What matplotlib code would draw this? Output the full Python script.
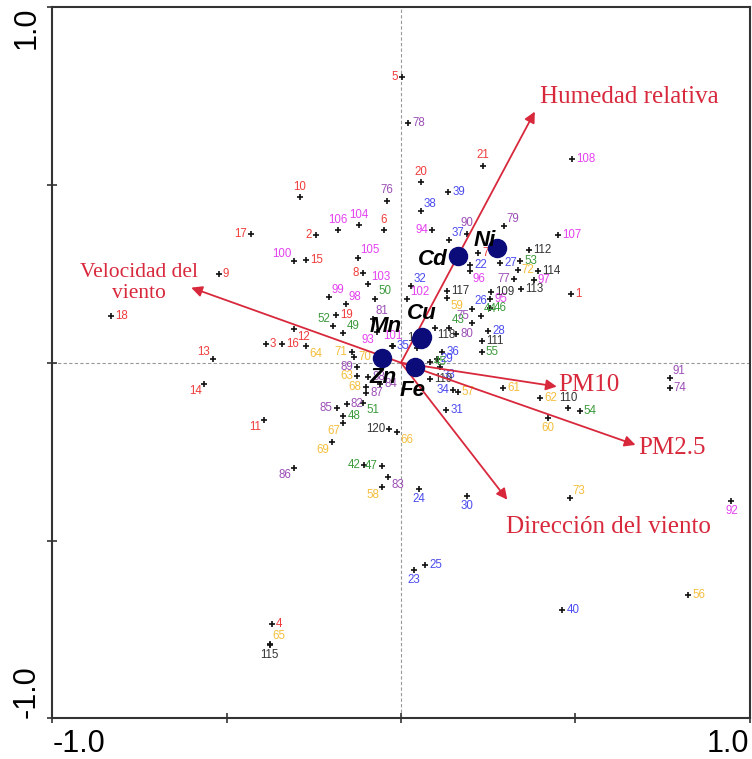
import matplotlib
matplotlib.use("Agg")
from matplotlib import pyplot as plt

# Site scores (axis 1, axis 2), grouped by label colour
red_ids = [1, 2, 3, 4, 5, 6, 7, 8, 9, 10, 11, 12, 13, 14, 15, 16, 17, 18, 19, 20, 21]
red_x = [0.489, -0.243, -0.388, -0.370, 0.002, -0.050, 0.222, -0.108, -0.523, -0.291, -0.393,
         -0.307, -0.540, -0.564, -0.273, -0.342, -0.430, -0.831, -0.186, 0.057, 0.234]
red_y = [0.192, 0.358, 0.054, -0.735, 0.803, 0.374, 0.309, 0.253, 0.250, 0.465, -0.161,
         0.094, 0.010, -0.059, 0.288, 0.054, 0.363, 0.131, 0.133, 0.507, 0.554]

blue_ids = [22, 23, 24, 25, 26, 27, 28, 29, 30, 31, 32, 33, 34, 35, 36, 37, 38, 39, 40]
blue_x = [0.198, 0.038, 0.052, 0.069, 0.203, 0.284, 0.250, 0.102, 0.188, 0.129, 0.028,
          0.112, 0.150, -0.026, 0.119, 0.138, 0.056, 0.136, 0.463]
blue_y = [0.276, -0.582, -0.355, -0.568, 0.152, 0.281, 0.089, 0.010, -0.375, -0.132, 0.215,
          -0.013, -0.077, 0.046, 0.029, 0.344, 0.426, 0.480, -0.696]

green_ids = [42, 43, 44, 45, 46, 47, 48, 49, 50, 51, 52, 53, 54, 55]
green_x = [-0.105, 0.138, 0.229, 0.083, 0.255, -0.054, -0.165, -0.165, -0.074, -0.108, -0.194,
           0.342, 0.513, 0.231]
green_y = [-0.287, 0.099, 0.130, 0.003, 0.155, -0.291, -0.151, 0.083, 0.180, -0.112, 0.103,
           0.285, -0.135, 0.029]

orange_ids = [56, 57, 58, 59, 60, 61, 62, 63, 64, 65, 66, 67, 68, 69, 70, 71, 72, 73]
orange_x = [0.823, 0.163, -0.055, 0.133, 0.422, 0.293, 0.398, -0.126, -0.272, -0.377, -0.011,
            -0.165, -0.101, -0.198, -0.135, -0.141, 0.335, 0.484]
orange_y = [-0.652, -0.081, -0.350, 0.181, -0.154, -0.070, -0.098, -0.038, 0.046, -0.790, -0.196,
            -0.170, -0.067, -0.224, 0.015, 0.029, 0.262, -0.381]

purple_ids = [74, 75, 76, 77, 78, 79, 80, 81, 82, 83, 84, 85, 86, 87, 88, 89, 90, 91]
purple_x = [0.771, 0.205, -0.040, 0.324, 0.021, 0.295, 0.158, -0.081, -0.156, -0.036, -0.060,
            -0.184, -0.306, -0.100, -0.095, -0.125, 0.190, 0.771]
purple_y = [-0.072, 0.111, 0.456, 0.236, 0.675, 0.384, 0.082, 0.124, -0.116, -0.322, -0.060,
            -0.128, -0.296, -0.085, -0.040, -0.013, 0.363, -0.044]

magenta_ids = [92, 93, 94, 95, 96, 97, 98, 99, 100, 101, 102, 103, 104, 105, 106, 107, 108]
magenta_x = [0.948, -0.069, 0.090, 0.255, 0.198, 0.381, -0.158, -0.207, -0.306, -0.023, 0.018,
             -0.094, -0.120, -0.124, -0.181, 0.451, 0.490]
magenta_y = [-0.388, 0.086, 0.372, 0.178, 0.257, 0.232, 0.164, 0.185, 0.286, 0.046, 0.178,
             0.220, 0.387, 0.295, 0.372, 0.358, 0.574]

black_ids = [109, 110, 111, 112, 113, 114, 115, 116, 117, 118, 119, 120]
black_x = [0.257, 0.479, 0.231, 0.366, 0.343, 0.392, -0.377, 0.045, 0.133, 0.097, 0.083, -0.034]
black_y = [0.199, -0.128, 0.061, 0.316, 0.208, 0.258, -0.793, 0.040, 0.201, 0.099, -0.046, -0.185]

# Metals (response variables)
metals = ["Ni", "Cd", "Cu", "Mn", "Zn", "Fe"]
metal_x = [0.275, 0.163, 0.059, 0.057, -0.054, 0.040]
metal_y = [0.323, 0.301, 0.073, 0.068, 0.014, -0.011]

# Environmental vectors
env_names = ["Humedad relativa", "Velocidad del\nviento", "PM10", "PM2.5", "Dirección del viento"]
env_x = [0.384, -0.602, 0.447, 0.673, 0.305]
env_y = [0.706, 0.211, -0.067, -0.231, -0.385]

# label side for each site (default right)
label_side = {
    2: 'l', 5: 'l', 6: 'a', 8: 'l', 10: 'a', 11: 'bl', 12: 'br', 13: 'al', 14: 'bl', 17: 'l',
    20: 'a', 21: 'a', 23: 'b', 24: 'b', 26: 'ar', 30: 'b', 32: 'ar', 33: 'br', 34: 'l',
    37: 'ar', 38: 'ar', 42: 'l', 43: 'ar', 44: 'ar', 47: 'l', 49: 'ar', 50: 'ar', 51: 'br',
    52: 'al', 58: 'bl', 59: 'br', 60: 'b', 63: 'l', 64: 'br', 65: 'ar', 66: 'br', 67: 'bl',
    68: 'l', 69: 'bl', 71: 'l', 73: 'ar', 75: 'al', 76: 'a', 77: 'l', 79: 'ar', 81: 'ar',
    83: 'br', 85: 'l', 86: 'bl', 89: 'l', 90: 'a', 91: 'ar', 92: 'b', 93: 'bl', 94: 'l',
    96: 'br', 98: 'ar', 99: 'ar', 100: 'al', 101: 'a', 102: 'ar', 103: 'ar', 104: 'a',
    105: 'ar', 106: 'a', 110: 'a', 115: 'b', 116: 'a', 118: 'br', 120: 'l',
}

side_fmt = {
    'r': ((3, 0), 'left', 'center'),
    'l': ((-3, 0), 'right', 'center'),
    'a': ((0, 3), 'center', 'bottom'),
    'b': ((0, -3), 'center', 'top'),
    'ar': ((2, 1), 'left', 'bottom'),
    'al': ((-2, 1), 'right', 'bottom'),
    'br': ((2, -1), 'left', 'top'),
    'bl': ((-2, -1), 'right', 'top'),
}

RED = "#d8283c"


def draw_sites(ax, ids, xs, ys, color):
    ax.plot(xs, ys, linestyle='none', marker='+', color='#111111', markersize=5, mew=1.2, zorder=3)
    for i, x, y in zip(ids, xs, ys):
        off, ha, va = side_fmt[label_side.get(i, 'r')]
        ax.annotate(str(i), (x, y), xytext=off, textcoords='offset points', ha=ha, va=va,
                    color=color, fontsize=8.3, family='Liberation Sans', zorder=4)


def main():
    fig = plt.figure(figsize=(7.52, 7.59), dpi=100)
    ax = fig.add_axes([0.0698, 0.0534, 0.9269, 0.9374])
    ax.set_xlim(-1, 1)
    ax.set_ylim(-1, 1)

    ax.axhline(0, color='#999999', lw=0.8, ls=(0, (3, 2)), zorder=1)
    ax.axvline(0, color='#999999', lw=0.8, ls=(0, (3, 2)), zorder=1)

    draw_sites(ax, red_ids, red_x, red_y, '#f03c3c')
    draw_sites(ax, blue_ids, blue_x, blue_y, '#4b4bf0')
    draw_sites(ax, green_ids, green_x, green_y, '#3c9a3c')
    draw_sites(ax, orange_ids, orange_x, orange_y, '#f5be3c')
    draw_sites(ax, purple_ids, purple_x, purple_y, '#9b4fb5')
    draw_sites(ax, magenta_ids, magenta_x, magenta_y, '#e442f0')
    draw_sites(ax, black_ids, black_x, black_y, '#333333')

    # environmental arrows
    for name, x, y in zip(env_names, env_x, env_y):
        ax.annotate('', xy=(x, y), xytext=(0, 0),
                    arrowprops=dict(arrowstyle='-|>', color=RED, lw=1.3, mutation_scale=16,
                                    shrinkA=0, shrinkB=0), zorder=5)
    env_text = [(0.398, 0.747, 'left', 18), (-0.752, 0.224, 'center', 15.5),
                (0.452, -0.062, 'left', 18), (0.681, -0.239, 'left', 18),
                (0.300, -0.461, 'left', 18)]
    for name, (tx, ty, ha, fs) in zip(env_names, env_text):
        ax.text(tx, ty, name, color=RED, fontsize=fs, family='Liberation Serif',
                ha=ha, va='center', multialignment='center', linespacing=1.15, zorder=6)

    # metals
    ax.plot(metal_x, metal_y, linestyle='none', marker='o', color='#0b0b7a', markersize=13, zorder=7)
    metal_off = [((-1, 5), 'right'), ((-7, -3), 'right'), ((0, 17), 'center'),
                 ((-14, 9), 'right'), ((1, -14), 'center'), ((-2, -17), 'center')]
    for name, x, y, (off, ha) in zip(metals, metal_x, metal_y, metal_off):
        ax.annotate(name, (x, y), xytext=off, textcoords='offset points', ha=ha, va='center',
                    fontsize=16, fontweight='bold', fontstyle='italic', family='Liberation Sans',
                    color='black', zorder=8)

    # axes styling
    for s in ax.spines.values():
        s.set_color('#333333')
        s.set_linewidth(1.5)
    ax.set_xticks([-1, -0.5, 0, 0.5, 1])
    ax.set_yticks([-1, -0.5, 0, 0.5, 1])
    ax.set_xticklabels(['-1.0', '', '', '', '1.0'])
    ax.set_yticklabels(['-1.0', '', '', '', '1.0'], rotation=90)
    ax.tick_params(direction='inout', length=7, width=1.2, color='#333333',
                   labelsize=22, pad=4)
    for lab in ax.get_xticklabels() + ax.get_yticklabels():
        lab.set_family('Liberation Sans')
    xl = ax.get_xticklabels()
    xl[0].set_ha('left')
    xl[-1].set_ha('right')
    yl = ax.get_yticklabels()
    yl[0].set_va('bottom')
    yl[-1].set_va('top')

    fig.savefig('out.png', dpi=100)


if __name__ == "__main__":
    main()
